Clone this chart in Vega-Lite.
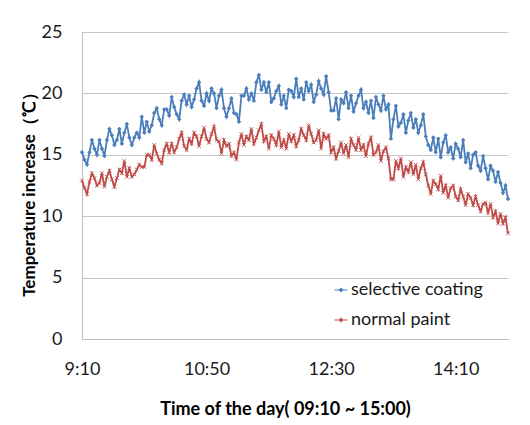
{
  "$schema": "https://vega.github.io/schema/vega-lite/v6.json",
  "autosize": "none",
  "width": 426,
  "height": 307,
  "padding": {"left": 82, "top": 32, "right": 22, "bottom": 86},
  "background": "white",
  "config": {
    "font": "Lato",
    "view": {"stroke": null}
  },
  "data": {
    "values": [
      {"t":0,"selective coating":15.2,"normal paint":12.9},
      {"t":2,"selective coating":14.6,"normal paint":12.3},
      {"t":4,"selective coating":14.2,"normal paint":11.8},
      {"t":6,"selective coating":15.2,"normal paint":12.8},
      {"t":8,"selective coating":16.2,"normal paint":13.5},
      {"t":10,"selective coating":15.5,"normal paint":13.1},
      {"t":12,"selective coating":15.0,"normal paint":12.5},
      {"t":14,"selective coating":16.2,"normal paint":12.7},
      {"t":16,"selective coating":15.5,"normal paint":13.5},
      {"t":18,"selective coating":14.9,"normal paint":12.4},
      {"t":20,"selective coating":16.2,"normal paint":13.2},
      {"t":22,"selective coating":17.1,"normal paint":13.7},
      {"t":24,"selective coating":16.6,"normal paint":13.0},
      {"t":26,"selective coating":15.8,"normal paint":12.4},
      {"t":28,"selective coating":16.2,"normal paint":13.1},
      {"t":30,"selective coating":17.1,"normal paint":13.8},
      {"t":32,"selective coating":15.9,"normal paint":13.5},
      {"t":34,"selective coating":16.8,"normal paint":14.5},
      {"t":36,"selective coating":17.5,"normal paint":13.2},
      {"t":38,"selective coating":16.4,"normal paint":13.9},
      {"t":40,"selective coating":15.8,"normal paint":13.2},
      {"t":42,"selective coating":16.4,"normal paint":13.4},
      {"t":44,"selective coating":16.8,"normal paint":13.8},
      {"t":46,"selective coating":16.4,"normal paint":14.2},
      {"t":48,"selective coating":18.1,"normal paint":14.0},
      {"t":50,"selective coating":16.8,"normal paint":14.0},
      {"t":52,"selective coating":17.7,"normal paint":15.0},
      {"t":54,"selective coating":16.9,"normal paint":15.0},
      {"t":56,"selective coating":17.4,"normal paint":14.6},
      {"t":58,"selective coating":18.4,"normal paint":15.8},
      {"t":60,"selective coating":18.8,"normal paint":15.1},
      {"t":62,"selective coating":17.9,"normal paint":14.6},
      {"t":64,"selective coating":17.4,"normal paint":14.3},
      {"t":66,"selective coating":18.7,"normal paint":15.4},
      {"t":68,"selective coating":18.7,"normal paint":15.9},
      {"t":70,"selective coating":18.2,"normal paint":15.2},
      {"t":72,"selective coating":19.7,"normal paint":15.9},
      {"t":74,"selective coating":18.9,"normal paint":15.2},
      {"t":76,"selective coating":18.3,"normal paint":15.6},
      {"t":78,"selective coating":17.9,"normal paint":16.3},
      {"t":80,"selective coating":19.4,"normal paint":16.8},
      {"t":82,"selective coating":19.9,"normal paint":15.7},
      {"t":84,"selective coating":19.1,"normal paint":15.4},
      {"t":86,"selective coating":19.8,"normal paint":16.3},
      {"t":88,"selective coating":18.9,"normal paint":15.9},
      {"t":90,"selective coating":19.5,"normal paint":16.8},
      {"t":92,"selective coating":20.4,"normal paint":16.5},
      {"t":94,"selective coating":20.9,"normal paint":15.7},
      {"t":96,"selective coating":19.4,"normal paint":16.5},
      {"t":98,"selective coating":19.0,"normal paint":17.2},
      {"t":100,"selective coating":20.0,"normal paint":16.3},
      {"t":102,"selective coating":19.4,"normal paint":16.0},
      {"t":104,"selective coating":20.4,"normal paint":16.7},
      {"t":106,"selective coating":20.0,"normal paint":17.3},
      {"t":108,"selective coating":18.8,"normal paint":16.2},
      {"t":110,"selective coating":19.8,"normal paint":16.1},
      {"t":112,"selective coating":20.3,"normal paint":15.1},
      {"t":114,"selective coating":18.8,"normal paint":16.2},
      {"t":116,"selective coating":18.1,"normal paint":15.7},
      {"t":118,"selective coating":18.8,"normal paint":15.9},
      {"t":120,"selective coating":19.6,"normal paint":14.9},
      {"t":122,"selective coating":18.4,"normal paint":15.2},
      {"t":124,"selective coating":18.3,"normal paint":14.6},
      {"t":126,"selective coating":17.7,"normal paint":16.0},
      {"t":128,"selective coating":19.8,"normal paint":16.7},
      {"t":130,"selective coating":19.8,"normal paint":15.8},
      {"t":132,"selective coating":20.4,"normal paint":16.5},
      {"t":134,"selective coating":19.5,"normal paint":16.2},
      {"t":136,"selective coating":20.0,"normal paint":17.1},
      {"t":138,"selective coating":19.4,"normal paint":15.9},
      {"t":140,"selective coating":20.9,"normal paint":16.4},
      {"t":142,"selective coating":21.5,"normal paint":17.0},
      {"t":144,"selective coating":20.3,"normal paint":17.5},
      {"t":146,"selective coating":20.9,"normal paint":16.1},
      {"t":148,"selective coating":20.1,"normal paint":16.5},
      {"t":150,"selective coating":20.9,"normal paint":15.5},
      {"t":152,"selective coating":19.3,"normal paint":16.6},
      {"t":154,"selective coating":19.6,"normal paint":16.3},
      {"t":156,"selective coating":20.2,"normal paint":15.8},
      {"t":158,"selective coating":20.6,"normal paint":16.9},
      {"t":160,"selective coating":19.1,"normal paint":15.6},
      {"t":162,"selective coating":19.8,"normal paint":16.2},
      {"t":164,"selective coating":18.8,"normal paint":15.5},
      {"t":166,"selective coating":20.3,"normal paint":16.7},
      {"t":168,"selective coating":20.2,"normal paint":16.1},
      {"t":170,"selective coating":19.7,"normal paint":16.6},
      {"t":172,"selective coating":21.2,"normal paint":15.7},
      {"t":174,"selective coating":19.7,"normal paint":16.2},
      {"t":176,"selective coating":20.4,"normal paint":17.1},
      {"t":178,"selective coating":19.5,"normal paint":16.6},
      {"t":180,"selective coating":20.9,"normal paint":16.2},
      {"t":182,"selective coating":20.2,"normal paint":17.4},
      {"t":184,"selective coating":20.7,"normal paint":16.7},
      {"t":186,"selective coating":19.3,"normal paint":16.0},
      {"t":188,"selective coating":19.9,"normal paint":16.2},
      {"t":190,"selective coating":21.0,"normal paint":17.0},
      {"t":192,"selective coating":20.4,"normal paint":15.5},
      {"t":194,"selective coating":19.9,"normal paint":16.7},
      {"t":196,"selective coating":21.4,"normal paint":16.3},
      {"t":198,"selective coating":20.1,"normal paint":16.6},
      {"t":200,"selective coating":18.6,"normal paint":15.2},
      {"t":202,"selective coating":18.6,"normal paint":15.6},
      {"t":204,"selective coating":19.6,"normal paint":14.7},
      {"t":206,"selective coating":17.9,"normal paint":15.3},
      {"t":208,"selective coating":19.5,"normal paint":16.0},
      {"t":210,"selective coating":19.2,"normal paint":15.1},
      {"t":212,"selective coating":20.1,"normal paint":15.8},
      {"t":214,"selective coating":18.8,"normal paint":14.8},
      {"t":216,"selective coating":19.8,"normal paint":16.3},
      {"t":218,"selective coating":18.5,"normal paint":15.8},
      {"t":220,"selective coating":19.2,"normal paint":15.4},
      {"t":222,"selective coating":19.8,"normal paint":16.4},
      {"t":224,"selective coating":20.3,"normal paint":15.4},
      {"t":226,"selective coating":18.8,"normal paint":15.8},
      {"t":228,"selective coating":19.3,"normal paint":14.9},
      {"t":230,"selective coating":18.4,"normal paint":15.9},
      {"t":232,"selective coating":19.4,"normal paint":16.4},
      {"t":234,"selective coating":18.0,"normal paint":15.0},
      {"t":236,"selective coating":19.7,"normal paint":15.2},
      {"t":238,"selective coating":19.1,"normal paint":15.8},
      {"t":240,"selective coating":18.6,"normal paint":14.5},
      {"t":242,"selective coating":19.8,"normal paint":15.3},
      {"t":244,"selective coating":18.7,"normal paint":15.6},
      {"t":246,"selective coating":19.1,"normal paint":14.7},
      {"t":248,"selective coating":16.3,"normal paint":13.0},
      {"t":250,"selective coating":17.9,"normal paint":13.0},
      {"t":252,"selective coating":19.0,"normal paint":14.5},
      {"t":254,"selective coating":17.3,"normal paint":13.9},
      {"t":256,"selective coating":17.6,"normal paint":14.7},
      {"t":258,"selective coating":18.3,"normal paint":13.2},
      {"t":260,"selective coating":16.8,"normal paint":14.0},
      {"t":262,"selective coating":17.8,"normal paint":13.6},
      {"t":264,"selective coating":18.4,"normal paint":14.4},
      {"t":266,"selective coating":17.2,"normal paint":13.4},
      {"t":268,"selective coating":17.9,"normal paint":14.2},
      {"t":270,"selective coating":16.8,"normal paint":13.0},
      {"t":272,"selective coating":17.4,"normal paint":13.9},
      {"t":274,"selective coating":18.3,"normal paint":14.4},
      {"t":276,"selective coating":16.5,"normal paint":13.4},
      {"t":278,"selective coating":15.8,"normal paint":12.5},
      {"t":280,"selective coating":15.4,"normal paint":11.8},
      {"t":282,"selective coating":16.4,"normal paint":12.9},
      {"t":284,"selective coating":15.2,"normal paint":12.6},
      {"t":286,"selective coating":16.3,"normal paint":12.2},
      {"t":288,"selective coating":14.8,"normal paint":13.3},
      {"t":290,"selective coating":16.0,"normal paint":11.9},
      {"t":292,"selective coating":16.6,"normal paint":12.5},
      {"t":294,"selective coating":15.2,"normal paint":11.5},
      {"t":296,"selective coating":15.6,"normal paint":12.3},
      {"t":298,"selective coating":14.7,"normal paint":12.5},
      {"t":300,"selective coating":15.9,"normal paint":11.6},
      {"t":302,"selective coating":15.5,"normal paint":11.3},
      {"t":304,"selective coating":14.8,"normal paint":12.2},
      {"t":306,"selective coating":16.2,"normal paint":11.6},
      {"t":308,"selective coating":14.4,"normal paint":10.9},
      {"t":310,"selective coating":15.1,"normal paint":11.8},
      {"t":312,"selective coating":13.9,"normal paint":11.5},
      {"t":314,"selective coating":15.0,"normal paint":10.9},
      {"t":316,"selective coating":15.2,"normal paint":11.6},
      {"t":318,"selective coating":14.1,"normal paint":10.9},
      {"t":320,"selective coating":13.7,"normal paint":10.4},
      {"t":322,"selective coating":14.9,"normal paint":11.0},
      {"t":324,"selective coating":13.9,"normal paint":11.1},
      {"t":326,"selective coating":13.0,"normal paint":10.3},
      {"t":328,"selective coating":14.1,"normal paint":11.0},
      {"t":330,"selective coating":13.7,"normal paint":9.9},
      {"t":332,"selective coating":12.8,"normal paint":10.4},
      {"t":334,"selective coating":13.6,"normal paint":9.4},
      {"t":336,"selective coating":12.7,"normal paint":10.2},
      {"t":338,"selective coating":11.9,"normal paint":9.4},
      {"t":340,"selective coating":12.5,"normal paint":9.9},
      {"t":342,"selective coating":11.4,"normal paint":8.6}
    ]
  },
  "transform": [
    {"fold": ["selective coating", "normal paint"], "as": ["series", "value"]}
  ],
  "encoding": {
    "x": {
      "field": "t",
      "type": "quantitative",
      "scale": {"domain": [0, 342], "nice": false, "zero": false},
      "axis": {
        "values": [0, 100, 200, 300],
        "labelExpr": "datum.value == 0 ? '9:10' : datum.value == 100 ? '10:50' : datum.value == 200 ? '12:30' : '14:10'",
        "grid": false,
        "ticks": false,
        "tickSize": 0,
        "domainColor": "#BFBFBF",
        "labelFontSize": 18,
        "labelColor": "#1a1a1a",
        "labelPadding": 30,
        "labelBaseline": "middle",
        "labelFlush": false,
        "title": "Time of the day( 09:10 ~ 15:00)",
        "titleFontSize": 18,
        "titleFontWeight": "bold",
        "titleColor": "#000000",
        "titleX": 203,
        "titleY": 70,
        "titleBaseline": "middle"
      }
    },
    "y": {
      "field": "value",
      "type": "quantitative",
      "scale": {"domain": [0, 25], "nice": false},
      "axis": {
        "values": [0, 5, 10, 15, 20, 25],
        "grid": true,
        "gridColor": "#C6C6C6",
        "gridWidth": 1,
        "ticks": false,
        "tickSize": 0,
        "domainColor": "#BFBFBF",
        "labelFontSize": 18,
        "labelColor": "#1a1a1a",
        "labelPadding": 20,
        "title": "Temperature increase（℃）",
        "titleFontSize": 17,
        "titleFontWeight": "bold",
        "titleColor": "#000000",
        "titleX": -53,
        "titleY": 158,
        "titleAlign": "center",
        "titleBaseline": "middle",
        "titleAngle": -90
      }
    },
    "color": {
      "field": "series",
      "type": "nominal",
      "scale": {
        "domain": ["selective coating", "normal paint"],
        "range": ["#4A7EBB", "#BE4B48"]
      },
      "legend": {
        "title": null,
        "orient": "none",
        "legendX": 250,
        "legendY": 249,
        "labelFontSize": 18,
        "labelColor": "#1a1a1a",
        "symbolType": "M-1,0H1M0,-0.25L0.25,0L0,0.25L-0.25,0Z",
        "symbolSize": 170,
        "symbolStrokeWidth": 1.2,
        "rowPadding": 12,
        "labelOffset": 1
      }
    }
  },
  "layer": [
    {
      "mark": {"type": "line", "strokeWidth": 1.8}
    },
    {
      "transform": [{"filter": "datum.series == 'selective coating'"}],
      "mark": {"type": "point", "shape": "diamond", "filled": true, "size": 20, "opacity": 1}
    },
    {
      "transform": [{"filter": "datum.series == 'normal paint'"}],
      "mark": {"type": "point", "shape": "M-1,-1L1,1M-1,1L1,-1", "filled": false, "size": 14, "strokeWidth": 1, "opacity": 0.9}
    }
  ]
}
